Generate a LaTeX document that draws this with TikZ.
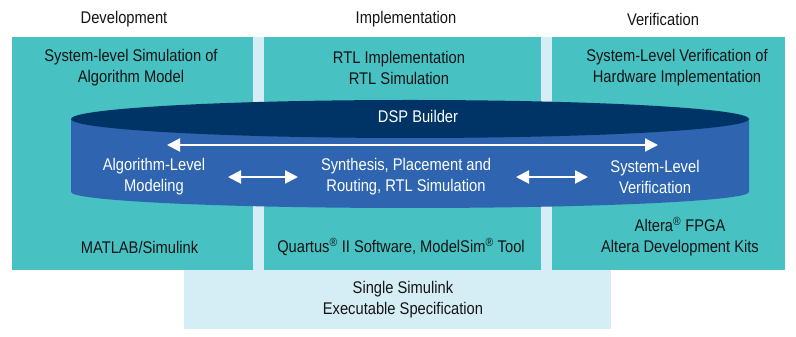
\documentclass[tikz,border=0pt]{standalone}
\usepackage{fontspec}
\setmainfont{Liberation Sans}[FakeStretch=0.87]
\usetikzlibrary{arrows.meta}
\definecolor{teal1}{HTML}{48C1C3}
\definecolor{lblue}{HTML}{D5EEF5}
\definecolor{navy}{HTML}{003466}
\definecolor{cylblue}{HTML}{2F65B0}
\definecolor{txt}{HTML}{151515}
\tikzset{
  lbl/.style={text=txt, align=center, inner sep=0pt, font=\fontsize{16.9}{21}\selectfont},
  wlbl/.style={lbl, text=white},
  warrow/.style={white, line width=2pt, {Triangle[length=13pt,width=13pt]}-{Triangle[length=13pt,width=13pt]}},
}
\begin{document}
\begin{tikzpicture}[x=1pt,y=1pt]
\useasboundingbox (0,0) rectangle (796,337);
% backgrounds
\fill[lblue] (184,8) rectangle (611,300);
\fill[teal1] (12,67) rectangle (253,300);
\fill[teal1] (264,67) rectangle (541,300);
\fill[teal1] (552,67) rectangle (785,300);
% cylinder
\fill[cylblue] (71,218) -- (71,145) arc[start angle=180,end angle=360,x radius=339,y radius=16] -- (749,218) -- cycle;
\fill[navy] (410,218) ellipse[x radius=339, y radius=19];
% headers
\node[lbl] (hdev) at (124,318) {Development};
\node[lbl] (himp) at (406,318) {Implementation};
\node[lbl] (hver) at (663,318) {Verification};
% top texts
\node[lbl] (tdev) at (131,269.5) {System-level Simulation of\\Algorithm Model};
\node[lbl] (timp) at (399,269.5) {RTL Implementation\\RTL Simulation};
\node[lbl] (tver) at (677,269.5) {System-Level Verification of\\Hardware Implementation};
% cylinder texts
\node[wlbl] (dsp) at (418,221) {DSP Builder};
\node[wlbl] (alg) at (154,160) {Algorithm-Level\\Modeling};
\node[wlbl] (syn) at (406,160) {Synthesis, Placement and\\Routing, RTL Simulation};
\node[wlbl] (sys) at (655,160) {System-Level\\Verification};
% bottom texts
\node[lbl] (mat) at (139.5,90) {MATLAB/Simulink};
\node[lbl] (qua) at (401,90) {Quartus\textsuperscript{®} II Software, ModelSim\textsuperscript{®} Tool};
\node[lbl] (alt) at (680,100.5) {Altera\textsuperscript{®} FPGA\\Altera Development Kits};
\node[lbl] (sim) at (403,37.5) {Single Simulink\\Executable Specification};
% arrows
\coordinate (la) at (167,192);
\coordinate (lb) at (658,192);
\draw[warrow] (la) -- (lb);
\coordinate (a1) at (228,160);
\coordinate (a2) at (298,160);
\draw[warrow] (a1) -- (a2);
\coordinate (b1) at (516,160);
\coordinate (b2) at (588,160);
\draw[warrow] (b1) -- (b2);
\end{tikzpicture}
\end{document}
